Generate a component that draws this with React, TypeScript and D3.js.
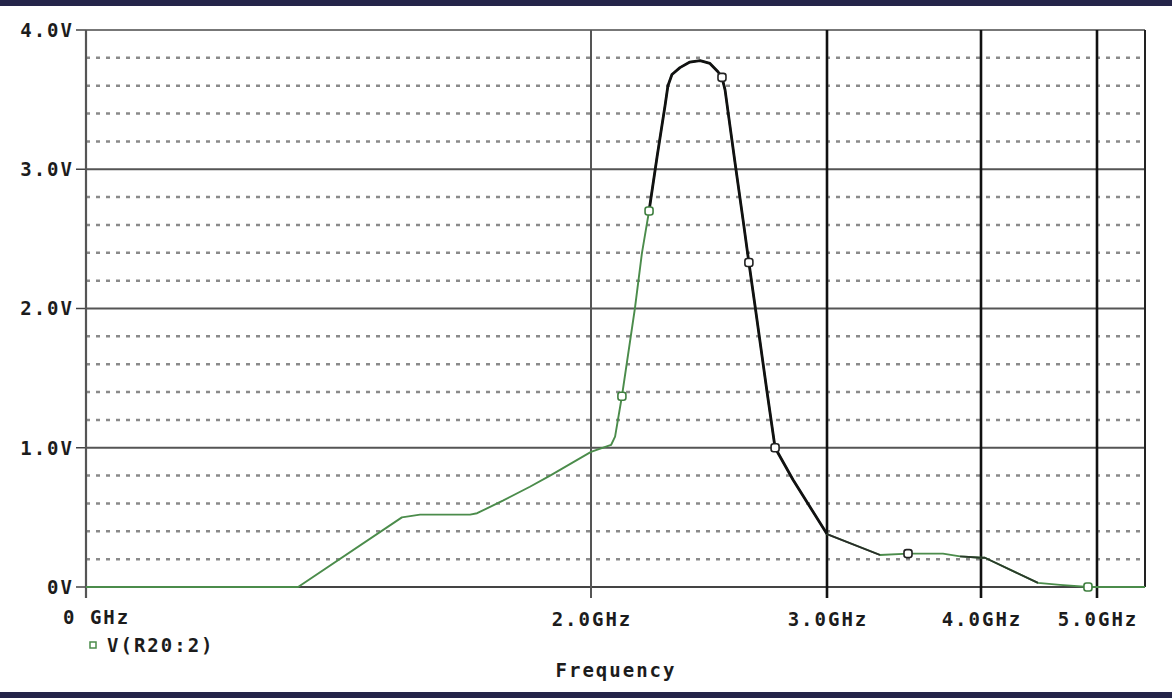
import React, { useRef, useEffect } from "react";
import * as d3 from "d3";

// frequency (GHz) / voltage (V) of V(R20:2)
const freqGHz = [
  0, 0.84, 1.251, 1.323, 1.521, 1.549, 1.651, 1.758, 1.838, 2.0, 2.085, 2.102,
  2.131, 2.186, 2.216, 2.246, 2.28, 2.314, 2.326, 2.343, 2.377, 2.419, 2.462,
  2.504, 2.538, 2.555, 2.568, 2.589, 2.61, 2.644, 2.669, 2.695, 2.746, 2.78,
  2.856, 3.0, 3.344, 3.526, 3.753, 3.864, 4.0, 4.034, 4.491, 4.681, 4.922, 5.0,
  5.41,
];
const voltage = [
  0, 0, 0.5, 0.52, 0.52, 0.53, 0.62, 0.72, 0.8, 0.97, 1.02, 1.08, 1.37, 2.0,
  2.4, 2.7, 3.09, 3.46, 3.6, 3.68, 3.73, 3.77, 3.78, 3.76, 3.7, 3.66, 3.57,
  3.31, 3.05, 2.64, 2.33, 2.02, 1.4, 1.0, 0.77, 0.38, 0.23, 0.24, 0.24, 0.22,
  0.21, 0.21, 0.03, 0.015, 0, 0, 0,
];

// trace symbols
const markerFreq = [2.131, 2.246, 2.555, 2.669, 2.78, 3.526, 4.922];
const markerVolt = [1.37, 2.7, 3.66, 2.33, 1.0, 0.24, 0.0];

const xTicks = [2, 3, 4, 5];
const xTickLabels = ["2.0GHz", "3.0GHz", "4.0GHz", "5.0GHz"];
const yTicks = [0, 1, 2, 3, 4];
const yTickLabels = ["0V", "1.0V", "2.0V", "3.0V", "4.0V"];
const yMinor = [0.2, 0.4, 0.6, 0.8, 1.2, 1.4, 1.6, 1.8, 2.2, 2.4, 2.6, 2.8, 3.2, 3.4, 3.6, 3.8];
const legendLabel = "V(R20:2)";
const xTitle = "Frequency";

const App = () => {
  const svgRef = useRef<SVGSVGElement>(null);

  useEffect(() => {
    const W = 1172;
    const H = 698;
    const font = "'DejaVu Sans Mono', monospace";
    const green = "#4b8c4b";
    const fs = 19;
    const ls = 2;

    const svg = d3.select(svgRef.current).attr("width", W).attr("height", H);
    svg.selectAll("*").remove();

    svg.append("rect").attr("width", W).attr("height", H).attr("fill", "#fff");
    svg.append("rect").attr("width", W).attr("height", 6).attr("fill", "#25254a");
    svg.append("rect").attr("y", 692).attr("width", W).attr("height", 6).attr("fill", "#25254a");

    // PSpice-like axis: piecewise scale through the labelled ticks
    const x = d3.scaleLinear().domain([0, 2, 3, 4, 5, 5.41]).range([86, 591, 827, 981, 1097, 1145]);
    const y = d3.scaleLinear().domain([0, 4]).range([587, 30]);
    const [x0, x1] = [x(0), x(5.41)];

    const g = svg.append("g");

    // dotted minor grid
    g.selectAll(".minor")
      .data(yMinor)
      .enter()
      .append("line")
      .attr("x1", x0)
      .attr("x2", x1)
      .attr("y1", (d) => y(d))
      .attr("y2", (d) => y(d))
      .attr("stroke", "#8a8a8a")
      .attr("stroke-width", 2.5)
      .attr("stroke-dasharray", "4,6");

    // solid major grid
    g.selectAll(".major")
      .data(yTicks)
      .enter()
      .append("line")
      .attr("x1", x0)
      .attr("x2", x1)
      .attr("y1", (d) => y(d))
      .attr("y2", (d) => y(d))
      .attr("stroke", (d) => (d === 0 ? "#444" : d === 4 ? "#777" : "#555"))
      .attr("stroke-width", (d) => (d === 0 ? 2.2 : 1.8));

    // y ticks + labels
    g.selectAll(".ytick")
      .data(yTicks)
      .enter()
      .append("line")
      .attr("x1", 76)
      .attr("x2", x0)
      .attr("y1", (d) => y(d))
      .attr("y2", (d) => y(d))
      .attr("stroke", "#444")
      .attr("stroke-width", 1.5);

    const label = (sel: any) =>
      sel
        .attr("font-family", font)
        .attr("font-weight", "bold")
        .attr("font-size", fs)
        .attr("letter-spacing", ls)
        .attr("fill", "#1c1c1c");

    g.selectAll(".ylab")
      .data(yTicks)
      .enter()
      .append("text")
      .attr("x", 74)
      .attr("y", (d) => y(d))
      .attr("dy", "0.36em")
      .attr("text-anchor", "end")
      .call(label)
      .text((d, i) => yTickLabels[i]);

    // vertical grid lines
    g.selectAll(".vgrid")
      .data(xTicks)
      .enter()
      .append("line")
      .attr("x1", (d) => x(d))
      .attr("x2", (d) => x(d))
      .attr("y1", y(4))
      .attr("y2", 598)
      .attr("stroke", (d) => (d === 2 ? "#555" : "#111"))
      .attr("stroke-width", (d) => (d === 2 ? 2 : 2.6));

    // left axis, right border
    g.append("line").attr("x1", x0).attr("x2", x0).attr("y1", y(4)).attr("y2", 598)
      .attr("stroke", "#555").attr("stroke-width", 2.2);
    g.append("line").attr("x1", x1).attr("x2", x1).attr("y1", y(4)).attr("y2", y(0))
      .attr("stroke", "#222").attr("stroke-width", 2);

    // x labels
    g.selectAll(".xlab")
      .data(xTicks)
      .enter()
      .append("text")
      .attr("x", (d) => x(d) + 1)
      .attr("y", 626)
      .attr("text-anchor", "middle")
      .call(label)
      .text((d, i) => xTickLabels[i]);

    g.append("text").attr("x", 63).attr("y", 624).call(label).text("0 GHz");

    g.append("text")
      .attr("x", 616)
      .attr("y", 677)
      .attr("text-anchor", "middle")
      .call(label)
      .text(xTitle);

    // legend
    g.append("rect").attr("x", 90).attr("y", 642).attr("width", 6).attr("height", 6)
      .attr("fill", "#fff").attr("stroke", green).attr("stroke-width", 1.5);
    g.append("text").attr("x", 107).attr("y", 652).call(label).text(legendLabel);

    // trace
    const pts = freqGHz.map((f, i) => ({ f, v: voltage[i] }));
    const line = d3.line<{ f: number; v: number }>().x((d) => x(d.f)).y((d) => y(d.v));

    g.append("path").datum(pts).attr("d", line).attr("fill", "none")
      .attr("stroke", green).attr("stroke-width", 1.9).attr("stroke-linejoin", "round");

    // darker overlapping stretches of the trace
    const darkBands: [number, number, number, string][] = [
      [2.246, 3.0, 2.8, "#111"],
      [3.0, 3.344, 1.8, "#2a2a2a"],
      [3.864, 4.491, 1.8, "#2a3a2a"],
    ];
    darkBands.forEach(([a, b, w, c]) => {
      g.append("path")
        .datum(pts.filter((d) => d.f >= a && d.f <= b))
        .attr("d", line)
        .attr("fill", "none")
        .attr("stroke", c)
        .attr("stroke-width", w)
        .attr("stroke-linejoin", "round");
    });

    // symbols
    g.selectAll(".mk")
      .data(markerFreq)
      .enter()
      .append("rect")
      .attr("x", (d) => x(d) - 4)
      .attr("y", (d, i) => y(markerVolt[i]) - 4)
      .attr("width", 8)
      .attr("height", 8)
      .attr("rx", 2.5)
      .attr("fill", "#fff")
      .attr("stroke", (d) => (d < 2.3 || d > 4.5 ? "#3f7f3f" : "#222"))
      .attr("stroke-width", 1.6);
  }, []);

  return (
    <div style={{ position: "fixed", left: 0, top: 0 }}>
      <svg ref={svgRef} style={{ display: "block" }}></svg>
    </div>
  );
};

export default App;
